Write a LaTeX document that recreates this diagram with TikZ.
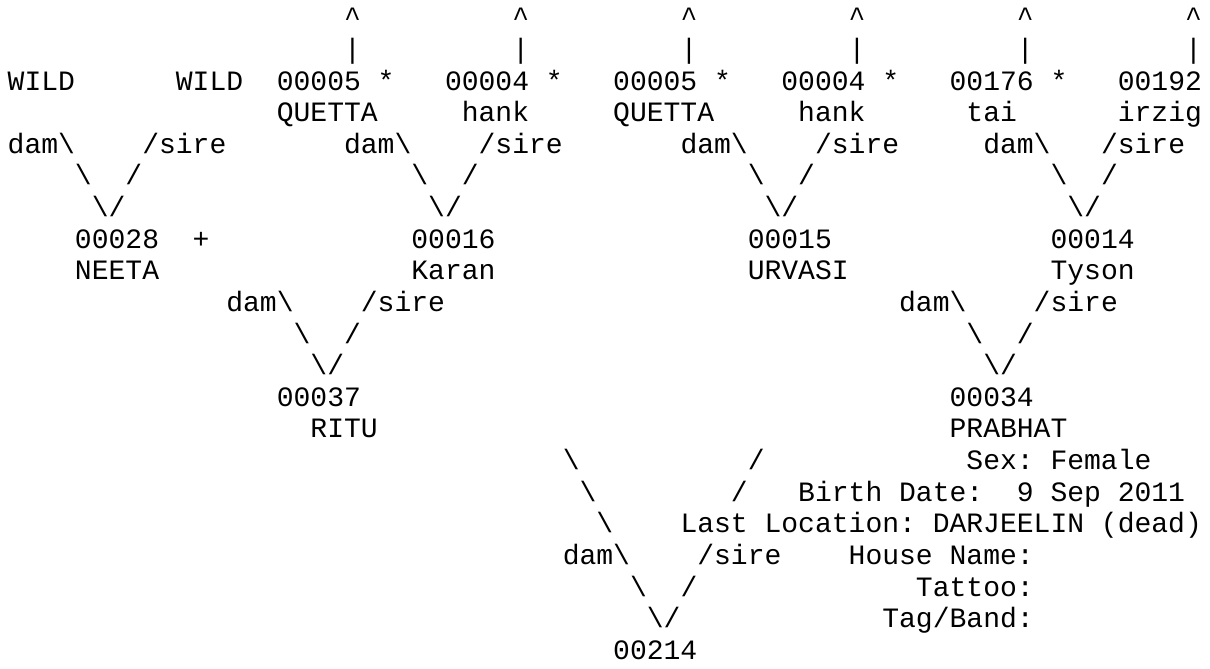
\documentclass[tikz,border=0pt]{standalone}
\usepackage{fontspec}
\setmonofont{Liberation Mono}

\tikzset{ascii/.style={anchor=base west, inner sep=0pt, font=\ttfamily\fontsize{28.03pt}{31.63pt}\selectfont\frenchspacing}}

\begin{document}
\begin{tikzpicture}[x=16.82pt, y=-31.63pt]
    \useasboundingbox (0pt,0pt) rectangle (1210pt,-669pt);
    \begin{scope}[shift={(7.5pt,4.83pt)}, every node/.style={ascii}]
        % great-grandparents
        \foreach \c in {20,30,40,50,60,70} {
            \node (up\c) at (\c,1) {\textasciicircum};
            \node (bar\c) at (\c,2) {|};
        }
        \node (wildA) at (0,3) {WILD};
        \node (wildB) at (10,3) {WILD};
        \node (n00005a) at (16,3) {00005};
        \node (starA) at (22,3) {*};
        \node (n00004a) at (26,3) {00004};
        \node (starB) at (32,3) {*};
        \node (n00005b) at (36,3) {00005};
        \node (starC) at (42,3) {*};
        \node (n00004b) at (46,3) {00004};
        \node (starD) at (52,3) {*};
        \node (n00176) at (56,3) {00176};
        \node (starE) at (62,3) {*};
        \node (n00192) at (66,3) {00192};
        \node (quettaA) at (16,4) {QUETTA};
        \node (hankA) at (27,4) {hank};
        \node (quettaB) at (36,4) {QUETTA};
        \node (hankB) at (47,4) {hank};
        \node (tai) at (57,4) {tai};
        \node (irzig) at (66,4) {irzig};

        \node (damA) at (0,5) {dam\textbackslash};
        \node (sireA) at (8,5) {/sire};
        \node (damB) at (20,5) {dam\textbackslash};
        \node (sireB) at (28,5) {/sire};
        \node (damC) at (40,5) {dam\textbackslash};
        \node (sireC) at (48,5) {/sire};
        \node (damD) at (58,5) {dam\textbackslash};
        \node (sireD) at (65,5) {/sire};
        \node (legA1) at (4,6) {\textbackslash};
        \node (legA2) at (7,6) {/};
        \node (legB1) at (24,6) {\textbackslash};
        \node (legB2) at (27,6) {/};
        \node (legC1) at (44,6) {\textbackslash};
        \node (legC2) at (47,6) {/};
        \node (legD1) at (62,6) {\textbackslash};
        \node (legD2) at (65,6) {/};
        \node (vA) at (5,7) {\textbackslash/};
        \node (vB) at (25,7) {\textbackslash/};
        \node (vC) at (45,7) {\textbackslash/};
        \node (vD) at (63,7) {\textbackslash/};

        % grandparents
        \node (n00028) at (4,8) {00028};
        \node (plus) at (11,8) {+};
        \node (n00016) at (24,8) {00016};
        \node (n00015) at (44,8) {00015};
        \node (n00014) at (62,8) {00014};
        \node (neeta) at (4,9) {NEETA};
        \node (karan) at (24,9) {Karan};
        \node (urvasi) at (44,9) {URVASI};
        \node (tyson) at (62,9) {Tyson};

        \node (damE) at (13,10) {dam\textbackslash};
        \node (sireE) at (21,10) {/sire};
        \node (damF) at (53,10) {dam\textbackslash};
        \node (sireF) at (61,10) {/sire};
        \node (legE1) at (17,11) {\textbackslash};
        \node (legE2) at (20,11) {/};
        \node (legF1) at (57,11) {\textbackslash};
        \node (legF2) at (60,11) {/};
        \node (vE) at (18,12) {\textbackslash/};
        \node (vF) at (58,12) {\textbackslash/};

        % parents
        \node (n00037) at (16,13) {00037};
        \node (n00034) at (56,13) {00034};
        \node (ritu) at (18,14) {RITU};
        \node (prabhat) at (56,14) {PRABHAT};

        % subject and its record
        \node (legG1) at (33,15) {\textbackslash};
        \node (legG2) at (44,15) {/};
        \node (sex) at (57,15) {Sex: Female};
        \node (legH1) at (34,16) {\textbackslash};
        \node (legH2) at (43,16) {/};
        \node (birth) at (47,16) {Birth Date:~~9 Sep 2011};
        \node (legI1) at (35,17) {\textbackslash};
        \node (place) at (40,17) {Last Location: DARJEELIN (dead)};
        \node (damG) at (33,18) {dam\textbackslash};
        \node (sireG) at (41,18) {/sire};
        \node (house) at (50,18) {House Name:};
        \node (legJ1) at (37,19) {\textbackslash};
        \node (legJ2) at (40,19) {/};
        \node (tattoo) at (54,19) {Tattoo:};
        \node (vG) at (38,20) {\textbackslash/};
        \node (tag) at (52,20) {Tag/Band:};
        \node (n00214) at (36,21) {00214};
    \end{scope}
\end{tikzpicture}
\end{document}
